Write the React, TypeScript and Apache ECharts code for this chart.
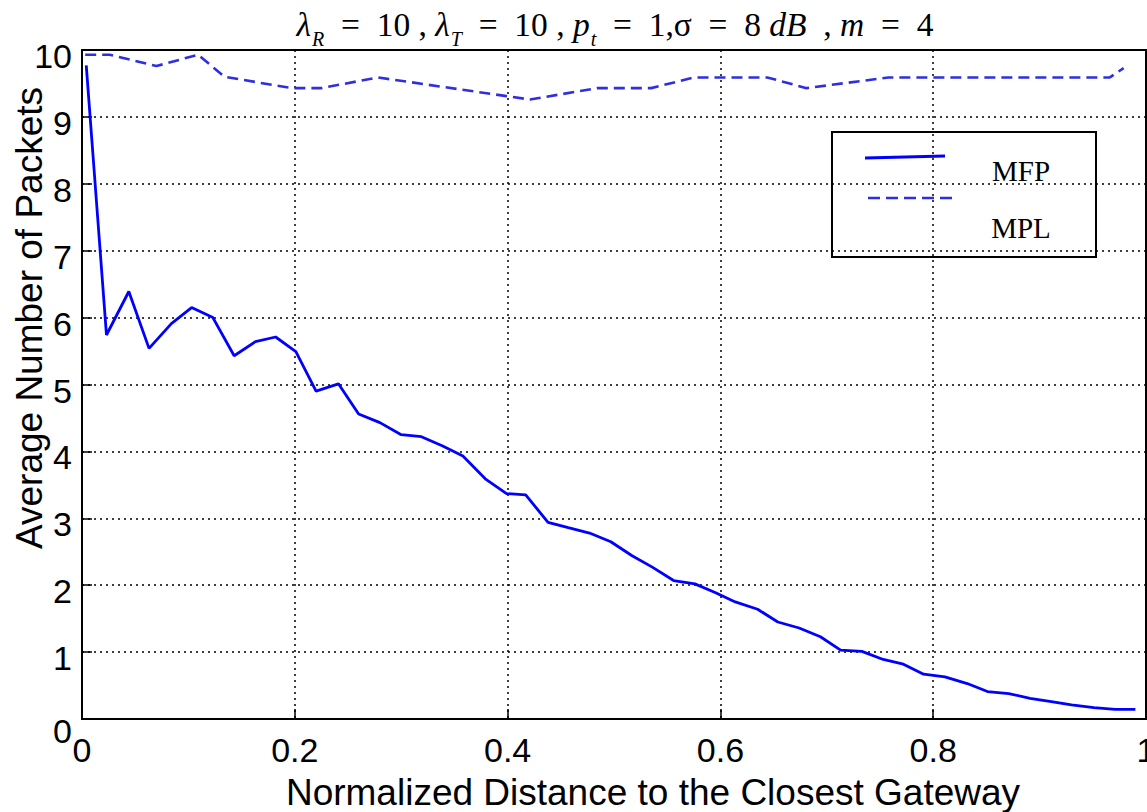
import React, { useEffect, useRef } from "react";
import * as echarts from "echarts";

const SERIES_NAMES = ["MFP", "MPL"];

const MFP_X = [
  0.004, 0.023, 0.044, 0.063, 0.084, 0.103, 0.123, 0.143, 0.163, 0.182,
  0.201, 0.220, 0.241, 0.260, 0.280, 0.300, 0.319, 0.339, 0.358, 0.379,
  0.399, 0.417, 0.438, 0.457, 0.477, 0.497, 0.517, 0.536, 0.556, 0.576,
  0.595, 0.614, 0.635, 0.654, 0.674, 0.694, 0.713, 0.733, 0.753, 0.772,
  0.791, 0.811, 0.832, 0.851, 0.871, 0.891, 0.911, 0.930, 0.951, 0.971,
  0.990,
];
const MFP_Y = [
  9.77, 5.74, 6.39, 5.54, 5.91, 6.15, 6.0, 5.43, 5.64, 5.71,
  5.49, 4.9, 5.01, 4.56, 4.43, 4.25, 4.22, 4.08, 3.93, 3.59,
  3.37, 3.35, 2.94, 2.86, 2.78, 2.65, 2.44, 2.27, 2.07, 2.02,
  1.89, 1.75, 1.64, 1.45, 1.36, 1.23, 1.03, 1.01, 0.89, 0.82,
  0.67, 0.63, 0.53, 0.41, 0.38, 0.31, 0.26, 0.21, 0.17, 0.145,
  0.145,
];

const MPL_X = [
  0.003, 0.026, 0.07, 0.109, 0.134, 0.197, 0.225, 0.278, 0.399, 0.421,
  0.484, 0.535, 0.575, 0.644, 0.681, 0.758, 0.966, 0.979,
];
const MPL_Y = [
  9.93, 9.93, 9.76, 9.93, 9.6, 9.43, 9.43, 9.59, 9.31, 9.26,
  9.43, 9.43, 9.59, 9.59, 9.43, 9.59, 9.59, 9.73,
];

const X_NAME = "Normalized Distance to the Closest Gateway";
const Y_NAME = "Average Number of Packets";

export default function App() {
  const ref = useRef<HTMLDivElement>(null);
  useEffect(() => {
    if (!ref.current) return;
    const chart = echarts.init(ref.current, null, { renderer: "svg" });
    const sans = "'Liberation Sans', Arial, Helvetica, sans-serif";
    const serif = "'Liberation Serif', 'Times New Roman', serif";
    const blue = "#0000ff";
    const blue2 = "#2f2fe0";
    const tn = { fontFamily: serif, fontSize: 33.5, fontWeight: "normal", color: "#000", lineHeight: 38, verticalAlign: "top" };

    const option: any = {
      animation: false,
      backgroundColor: "#ffffff",
      title: {
        text:
          "{i|λ}{s|R}{n|  =  10 , }{i|λ}{s|T}{n|  =  10 , }{i|p}{s|t}{n|  =  1,}{n|σ}{n|  =  8 }{i|dB}{n|  , }{i|m}{n|  =  4}",
        left: 615,
        top: 7,
        textAlign: "center",
        padding: 0,
        textStyle: {
          fontWeight: "normal",
          rich: {
            n: { ...tn },
            i: { ...tn, fontStyle: "italic" },
            s: { fontFamily: serif, fontSize: 20, fontWeight: "normal", fontStyle: "italic", color: "#000", lineHeight: 20, padding: [22, 0, 0, 1], verticalAlign: "top" },
          },
        },
      },
      grid: {
        left: 82,
        right: 1,
        top: 50,
        bottom: 93,
        show: true,
        borderColor: "#000",
        borderWidth: 2,
        backgroundColor: "transparent",
        containLabel: false,
        outerBoundsMode: "none",
      },
      xAxis: {
        type: "value",
        min: 0,
        max: 1,
        interval: 0.2,
        axisLine: { show: true, lineStyle: { color: "#000", width: 2 } },
        axisTick: { show: true, inside: true, length: 10, lineStyle: { color: "#000", width: 1.5 } },
        axisLabel: { color: "#000", fontFamily: sans, fontSize: 34, margin: 14, showMinLabel: true, showMaxLabel: true },
        splitLine: { show: true, lineStyle: { color: "#000", width: 1.5, type: [2, 4] } },
        name: X_NAME,
        nameLocation: "middle",
        nameGap: 55,
        nameMoveOverlap: false,
        nameTextStyle: { color: "#000", fontFamily: sans, fontSize: 37, padding: [0, 0, 0, 78] },
      },
      yAxis: {
        type: "value",
        min: 0,
        max: 10,
        interval: 1,
        axisLine: { show: true, lineStyle: { color: "#000", width: 2 } },
        axisTick: { show: true, inside: true, length: 10, lineStyle: { color: "#000", width: 1.5 } },
        axisLabel: {
          margin: 10,
          formatter: (v: number) => (v === 0 ? "{z|0}" : "{a|" + v + "}"),
          rich: {
            a: { fontFamily: sans, fontSize: 34, color: "#000", padding: [12, 0, 0, 0] },
            z: { fontFamily: sans, fontSize: 34, color: "#000", padding: [24, 0, 0, 0] },
          },
        },
        splitLine: { show: true, lineStyle: { color: "#000", width: 1.5, type: [2, 4] } },
        name: Y_NAME,
        nameLocation: "middle",
        nameGap: 34,
        nameMoveOverlap: false,
        nameTextStyle: { color: "#000", fontFamily: sans, fontSize: 37, padding: [0, 0, 0, 133] },
      },
      series: [
        {
          name: SERIES_NAMES[0],
          type: "line",
          data: MFP_X.map((x, i) => [x, MFP_Y[i]]),
          symbol: "none",
          showSymbol: false,
          lineStyle: { color: blue, width: 2.8 },
          itemStyle: { color: blue },
          z: 4,
        },
        {
          name: SERIES_NAMES[1],
          type: "line",
          data: MPL_X.map((x, i) => [x, MPL_Y[i]]),
          symbol: "none",
          showSymbol: false,
          lineStyle: { color: blue2, width: 2.6, type: [11, 6] },
          itemStyle: { color: blue2 },
          z: 3,
        },
      ],
      graphic: [
        {
          type: "rect",
          shape: { x: 832, y: 132, width: 264, height: 125 },
          style: { fill: "none", stroke: "#000", lineWidth: 2 },
          z: 10,
        },
        {
          type: "line",
          shape: { x1: 865, y1: 158, x2: 945, y2: 156 },
          style: { stroke: blue, lineWidth: 2.8 },
          z: 10,
        },
        {
          type: "line",
          shape: { x1: 868, y1: 198, x2: 953, y2: 198 },
          style: { stroke: blue2, lineWidth: 2.6, lineDash: [12, 6] },
          z: 10,
        },
        {
          type: "text",
          x: 1021,
          y: 171,
          style: {
            text: SERIES_NAMES[0],
            fontFamily: serif,
            fontSize: 29,
            fill: "#000",
            align: "center",
            verticalAlign: "middle",
            textAlign: "center",
            textVerticalAlign: "middle",
          },
          z: 10,
        },
        {
          type: "text",
          x: 1021,
          y: 228,
          style: {
            text: SERIES_NAMES[1],
            fontFamily: serif,
            fontSize: 29,
            fill: "#000",
            align: "center",
            verticalAlign: "middle",
            textAlign: "center",
            textVerticalAlign: "middle",
          },
          z: 10,
        },
      ],
    };
    chart.setOption(option);
    return () => chart.dispose();
  }, []);
  return (
    <div
      ref={ref}
      style={{ position: "fixed", left: 0, top: 0, width: 1147, height: 812, background: "#fff" }}
    />
  );
}
